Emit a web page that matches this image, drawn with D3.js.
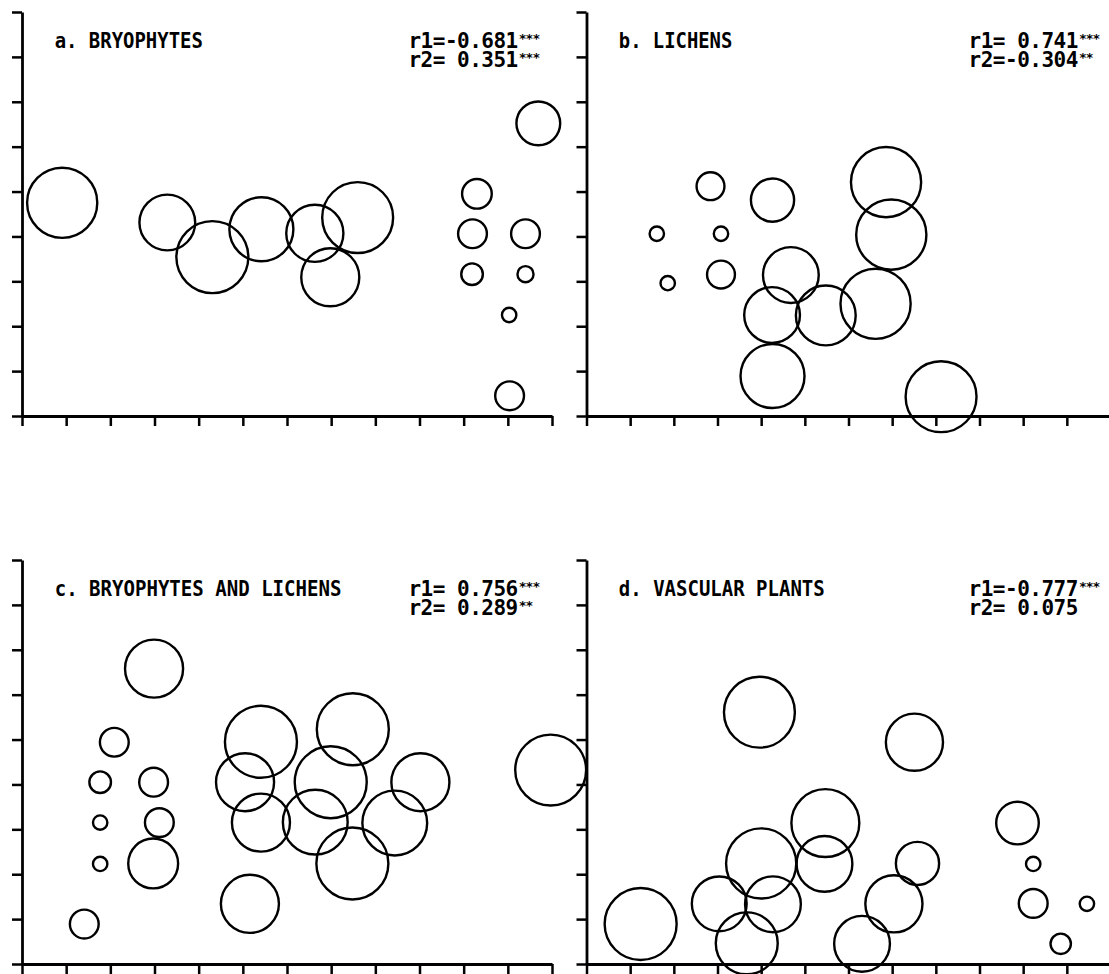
<!DOCTYPE html>
<html>
<head>
<meta charset="utf-8">
<script src="https://cdn.jsdelivr.net/npm/d3@7"></script>
<style>
  html, body { margin: 0; padding: 0; background: #fff; }
  svg { display: block; }
</style>
</head>
<body>
<svg id="chart" width="1109" height="974"></svg>
<script>
"use strict";

// axis ticks (no labels in the original figure)
const xTicks = d3.range(0, 13);
const yTicks = d3.range(0, 10);

const panelTitles = ["a. BRYOPHYTES", "b. LICHENS", "c. BRYOPHYTES AND LICHENS", "d. VASCULAR PLANTS"];
const r1Labels = ["r1=-0.681", "r1= 0.741", "r1= 0.756", "r1=-0.777"];
const r1Stars = ["***", "***", "***", "***"];
const r2Labels = ["r2= 0.351", "r2=-0.304", "r2= 0.289", "r2= 0.075"];
const r2Stars = ["***", "**", "**", ""];

// a. bryophytes
const bryoX = [0.91, 3.29, 4.31, 5.42, 6.63, 7.60, 6.98, 10.30, 10.20, 11.40, 10.19, 11.40, 11.03, 11.04, 11.69];
const bryoY = [4.75, 4.31, 3.54, 4.16, 4.07, 4.42, 3.09, 4.95, 4.06, 4.06, 3.16, 3.16, 2.25, 0.45, 6.52];
const bryoSize = [95, 60, 100, 79, 63, 97, 65, 17, 16, 16, 9, 5, 4, 16, 37];

// b. lichens
const lichX = [2.84, 4.26, 1.61, 3.08, 1.86, 3.08, 4.68, 4.25, 5.48, 6.62, 6.86, 6.98, 4.26, 8.12];
const lichY = [5.12, 4.81, 4.06, 4.06, 2.96, 3.15, 3.14, 2.25, 2.24, 2.50, 5.21, 4.04, 0.89, 0.43];
const lichSize = [15, 36, 4, 4, 4, 15, 60, 60, 69, 95, 95, 95, 79, 97];

// c. bryophytes and lichens
const bothX = [2.99, 2.09, 1.77, 2.98, 1.77, 3.11, 1.77, 2.97, 1.41, 5.41, 5.05, 5.41, 5.16, 7.49, 6.99, 6.64, 9.02, 8.44, 7.48, 11.97];
const bothY = [6.58, 4.94, 4.05, 4.05, 3.15, 3.15, 2.23, 2.24, 0.89, 4.95, 4.05, 3.15, 1.34, 5.23, 4.05, 3.16, 4.05, 3.14, 2.24, 4.32];
const bothSize = [65, 16, 9, 16, 4, 16, 4, 48, 16, 100, 65, 65, 65, 100, 100, 81, 65, 81, 100, 97];

// d. vascular plants
const vascX = [3.96, 7.51, 5.47, 4.00, 5.45, 7.58, 1.24, 3.04, 4.27, 3.67, 6.31, 7.04, 9.87, 10.23, 10.23, 11.46, 10.86];
const vascY = [5.61, 4.94, 3.14, 2.24, 2.23, 2.24, 0.89, 1.34, 1.33, 0.46, 0.45, 1.34, 3.14, 2.23, 1.35, 1.34, 0.45];
const vascSize = [97, 63, 89, 95, 60, 36, 100, 58, 60, 74, 60, 63, 35, 4, 16, 4, 8];

const seriesX = [bryoX, lichX, bothX, vascX];
const seriesY = [bryoY, lichY, bothY, vascY];
const seriesSize = [bryoSize, lichSize, bothSize, vascSize];

// plot frames for the 2x2 grid
const frames = [
  { left: 22, right: 552, top: 12, bottom: 416 },
  { left: 586.5, right: 1110.5, top: 12, bottom: 416 },
  { left: 22, right: 552, top: 560, bottom: 964 },
  { left: 586.5, right: 1110.5, top: 560, bottom: 964 }
];

const svg = d3.select("#chart");
const font = "'DejaVu Sans Mono', 'Liberation Mono', monospace";

const r = d3.scaleSqrt().domain([0, 100]).range([0, 36]);

frames.forEach((f, i) => {
  const x = d3.scaleLinear().domain([0, 12]).range([f.left, f.right]);
  const y = d3.scaleLinear().domain([0, 9]).range([f.bottom, f.top]);

  const g = svg.append("g");

  const xAxis = d3.axisBottom(x).tickValues(xTicks).tickSize(10).tickSizeOuter(0).tickFormat("");
  const yAxis = d3.axisLeft(y).tickValues(yTicks).tickSize(10).tickSizeOuter(0).tickFormat("");

  const gx = g.append("g").attr("transform", `translate(0,${f.bottom})`).call(xAxis);
  const gy = g.append("g").attr("transform", `translate(${f.left},0)`).call(yAxis);

  [gx, gy].forEach((a) => {
    a.select(".domain").attr("stroke", "#000").attr("stroke-width", 2.8);
    a.selectAll(".tick line").attr("stroke", "#000").attr("stroke-width", 2.5);
  });

  // title
  g.append("text")
    .attr("x", x(0.74))
    .attr("y", f.top + 36)
    .attr("font-family", font)
    .attr("font-weight", "bold")
    .attr("font-size", 22)
    .attr("textLength", panelTitles[i].length * 11.55 - 2)
    .attr("lengthAdjust", "spacingAndGlyphs")
    .text(panelTitles[i]);

  // correlation labels, one text block with superscript stars
  const lx = x(8.75);
  const t = g.append("text")
    .attr("font-family", font)
    .attr("font-weight", "bold")
    .attr("font-size", 21)
    .attr("letter-spacing", -0.5);

  [[r1Labels[i], r1Stars[i], f.top + 36], [r2Labels[i], r2Stars[i], f.top + 55]].forEach(([label, stars, by]) => {
    t.append("tspan").attr("x", lx).attr("y", by).text(label);
    if (stars) {
      t.append("tspan")
        .attr("dx", 1)
        .attr("dy", -5.5)
        .attr("font-size", 13)
        .attr("letter-spacing", -1)
        .text(stars);
    }
  });

  // bubbles
  const pts = seriesX[i].map((d, k) => ({ x: d, y: seriesY[i][k], s: seriesSize[i][k] }));
  g.append("g")
    .selectAll("circle")
    .data(pts)
    .join("circle")
    .attr("cx", (d) => x(d.x))
    .attr("cy", (d) => y(d.y))
    .attr("r", (d) => r(d.s))
    .attr("fill", "none")
    .attr("stroke", "#000")
    .attr("stroke-width", 2.4);
});
</script>
</body>
</html>
